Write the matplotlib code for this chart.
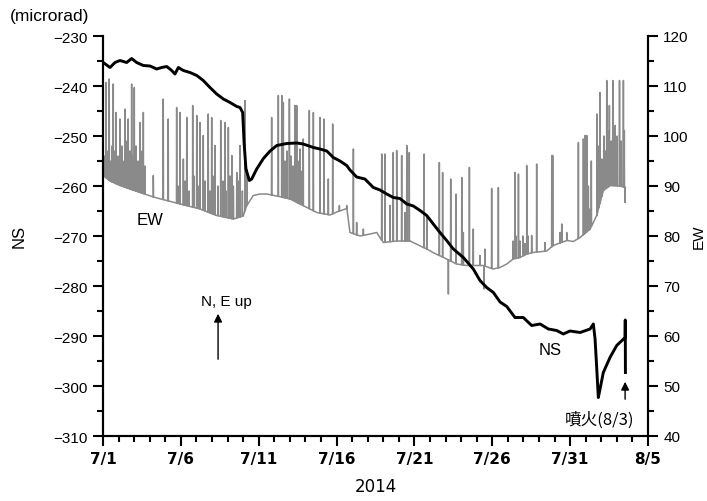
import numpy as np
import matplotlib
matplotlib.use("Agg")
import matplotlib.pyplot as plt

# ---------------- data (days since 2014-07-01) ----------------
ns_days = [0.02, 0.45, 0.77, 1.09, 1.52, 1.84, 2.16, 2.59, 3.02, 3.45, 3.77, 4.09, 4.41, 4.62,
           4.84, 5.16, 5.59, 6.02, 6.44, 6.87, 7.30, 7.73, 8.16, 8.59, 8.80, 8.97, 9.06, 9.18,
           9.40, 9.55, 9.87, 10.30, 10.73, 11.16, 11.80, 12.44, 12.86, 13.51, 13.94, 14.37,
           14.79, 15.22, 15.65, 15.86, 16.29, 16.82, 17.36, 17.79, 18.22, 18.64, 19.07, 19.51,
           19.93, 20.36, 20.79, 21.21, 21.64, 22.07, 22.50, 23.14, 23.78, 24.21, 24.64, 25.07,
           25.50, 25.93, 26.46, 26.99, 27.53, 28.07, 28.60, 29.14, 29.56, 29.99, 30.64, 31.28,
           31.49, 31.60, 31.71, 31.81, 31.92, 32.13, 32.56, 32.99, 33.53, 33.54, 33.55]
ns_vals = [-235.3, -236.3, -235.3, -234.9, -235.3, -234.5, -235.3, -235.9, -236.0, -236.6,
           -236.3, -236.1, -236.9, -237.6, -236.3, -236.9, -237.3, -237.9, -238.9, -240.3,
           -241.6, -242.6, -243.3, -244.1, -244.3, -245.3, -251.3, -256.6, -258.9, -258.6,
           -256.6, -254.5, -253.0, -251.9, -251.5, -251.4, -251.6, -252.3, -252.6, -253.0,
           -254.3, -255.0, -255.9, -256.8, -258.2, -258.6, -260.3, -260.8, -261.6, -262.3,
           -262.5, -263.6, -264.0, -264.9, -265.9, -267.6, -269.3, -270.9, -272.6, -274.3,
           -276.6, -278.9, -280.3, -281.3, -283.2, -284.1, -286.3, -286.3, -287.9, -287.6,
           -288.6, -288.9, -289.6, -289.0, -289.3, -288.6, -287.6, -290.6, -296.6, -302.3,
           -300.6, -297.3, -294.3, -291.9, -290.3, -286.8, -297.3]

ew_base_days = [0.02, 0.45, 1.09, 1.73, 2.38, 3.23, 4.09, 4.95, 6.23, 7.30, 8.37, 9.01, 9.23,
                9.65, 10.08, 10.51, 11.16, 12.01, 12.65, 13.73, 14.58, 15.01, 15.65, 15.86,
                16.51, 17.15, 17.58, 18.00, 18.86, 19.72, 20.79, 21.19, 22.07, 22.71, 23.36,
                24.42, 25.05, 25.50, 25.93, 26.35, 26.78, 27.21, 27.62, 28.50, 28.92, 29.78,
                30.21, 30.64, 31.28, 31.71, 32.13, 32.56, 33.20, 33.53]
ew_base_vals = [92.1, 91.0, 90.1, 89.4, 88.7, 87.8, 87.1, 86.4, 85.4, 84.1, 83.4, 84.0, 86.1,
                88.1, 88.4, 88.4, 88.0, 87.4, 86.4, 84.7, 84.2, 84.8, 85.5, 80.7, 80.0, 80.4,
                80.7, 78.7, 79.0, 79.0, 77.4, 76.7, 75.4, 74.4, 74.1, 74.1, 73.4, 73.7, 74.4,
                75.4, 75.7, 76.4, 76.7, 77.0, 78.1, 79.1, 78.9, 79.7, 81.4, 84.1, 89.1, 90.1,
                90.0, 89.7]

ew_spike_days = [0.19, 0.40, 0.66, 0.83, 1.09, 1.41, 1.62, 1.84, 2.01, 2.38, 2.59, 3.23, 3.87,
                 4.19, 4.73, 4.95, 5.16, 5.38, 5.76, 6.02, 6.23, 6.44, 6.76, 6.98, 7.19, 7.56,
                 7.84, 8.05, 8.27, 8.59, 8.80, 9.12, 9.23,
                 0.10, 0.26, 0.51, 0.58, 0.77, 0.96, 1.22, 1.35, 1.54, 1.73, 1.93, 2.12, 2.25,
                 2.51, 2.70,
                 4.81, 5.27, 5.52, 5.84, 6.10, 6.55, 6.87, 7.06, 7.38, 7.71, 7.90, 8.16, 8.37,
                 8.69, 8.95,
                 10.83, 11.26, 11.48, 11.58, 11.97, 12.33, 12.44, 12.65, 12.86, 13.25, 13.51,
                 13.94, 14.19, 14.47, 14.75, 15.18, 15.65, 16.08, 16.29, 16.72, 17.90, 18.11,
                 18.43, 18.64, 18.86, 19.18, 19.40, 19.51,
                 11.68, 11.81, 12.07, 12.20, 12.52, 12.72,
                 19.67, 20.62, 20.79, 21.60, 21.81, 22.18, 22.33, 22.67, 23.04, 23.14, 23.53,
                 23.78, 24.21, 24.47, 24.53, 24.96, 25.39, 26.46, 26.68, 27.21, 27.53, 27.85,
                 28.88,
                 26.33, 26.52, 26.78, 26.97, 27.10, 27.30,
                 28.39, 28.82, 29.35, 29.46, 29.78, 30.53, 30.85, 30.96, 31.07, 31.28, 31.71,
                 31.92, 32.03, 32.35, 32.52, 32.74, 32.89, 33.17, 33.42, 33.48, 33.53,
                 31.04, 31.17, 31.36, 31.84, 32.16, 32.29, 32.45, 32.64, 32.83, 33.02, 33.28]
ew_spike_peaks = [110.7, 111.4, 110.4, 104.7, 103.4, 105.4, 103.4, 110.4, 109.7, 102.7, 104.7,
                  92.1, 107.4, 103.4, 105.7, 104.7, 95.4, 103.7, 106.1, 104.1, 102.7, 100.1,
                  104.4, 103.7, 98.1, 103.1, 102.7, 101.7, 96.1, 92.7, 98.1, 107.1, 93.4,
                  96.0, 97.0, 95.0, 98.0, 97.0, 96.0, 98.0, 95.0, 99.0, 97.0, 96.0, 98.0, 95.0,
                  97.0, 94.0,
                  90.0, 91.0, 89.0, 92.0, 90.0, 91.0, 89.0, 92.0, 90.0, 91.0, 89.0, 92.0, 90.0,
                  91.0, 89.0,
                  103.7, 108.1, 108.1, 106.7, 107.4, 106.1, 106.1, 97.4, 99.4, 105.1, 104.7,
                  103.7, 103.4, 91.4, 102.4, 86.1, 86.1, 97.4, 82.7, 81.4, 96.4, 96.4,
                  86.1, 96.7, 97.1, 96.1, 84.7, 98.1,
                  95.0, 97.0, 96.0, 94.0, 95.0, 93.0,
                  96.7, 96.4, 84.1, 94.7, 92.7, 68.4, 91.4, 88.4, 91.7, 80.7, 93.7,
                  81.4, 76.1, 69.4, 77.4, 89.5, 89.7, 92.7, 92.4, 94.1, 80.1, 94.4,
                  96.1,
                  79.0, 80.0, 79.0, 80.0, 78.5, 80.0,
                  78.7, 96.1, 80.7, 82.4, 80.7, 98.7, 99.4, 100.1, 100.1, 85.4, 104.4,
                  108.7, 95.4, 111.1, 106.1, 111.1, 102.1, 111.1, 111.1, 101.1, 86.7,
                  94.0, 90.0, 95.0, 98.0, 100.0, 97.0, 101.0, 99.0, 98.0, 100.0, 99.0]

xtick_days = [0, 5, 10, 15, 20, 25, 30, 35]
xtick_labels = ["7/1", "7/6", "7/11", "7/16", "7/21", "7/26", "7/31", "8/5"]

# ---------------- build EW trace ----------------
pts = list(zip(ew_base_days, ew_base_vals))
bd = np.array(ew_base_days)
bv = np.array(ew_base_vals)
for d, p in zip(ew_spike_days, ew_spike_peaks):
    b = float(np.interp(d, bd, bv))
    pts += [(d - 0.012, b), (d, p), (d + 0.012, b)]
pts.sort(key=lambda t: t[0])
ew_x = [p[0] for p in pts]
ew_y = [p[1] for p in pts]

# ---------------- figure ----------------
plt.rcParams['font.family'] = ['Liberation Sans', 'DejaVu Sans']
fig = plt.figure(figsize=(7.07, 5.02), dpi=100)
L, R, T, B = 103, 648, 37, 437
ax = fig.add_axes([L / 707, 1 - B / 502, (R - L) / 707, (B - T) / 502])
ax2 = ax.twinx()
ax.set_zorder(ax2.get_zorder() + 1)
ax.patch.set_visible(False)

ax2.plot(ew_x, ew_y, color='#8a8a8a', lw=1.1)
ax.plot(ns_days, ns_vals, color='black', lw=2.1)

ax.set_xlim(0, 35)
ax.set_ylim(-310, -230)
ax2.set_ylim(40, 120)

ax.set_xticks(xtick_days)
ax.set_xticklabels(xtick_labels, family=['Liberation Sans Narrow', 'DejaVu Sans'],
                   fontweight='bold', fontsize=11)
ax.set_xticks(np.arange(0, 36, 1), minor=True)
ax.set_yticks(np.arange(-310, -229, 10))
ax.set_yticklabels([f"\u2212{abs(v)}" for v in range(-310, -229, 10)], fontsize=11)
ax.set_yticks(np.arange(-310, -229, 5), minor=True)
ax2.set_yticks(np.arange(40, 121, 10))
ax2.set_yticks(np.arange(40, 121, 5), minor=True)
ax2.tick_params(axis='y', labelsize=11)

for a in (ax, ax2):
    a.spines['top'].set_visible(False)
    for s in ('left', 'right', 'bottom'):
        a.spines[s].set_linewidth(1.5)
    a.tick_params(which='major', direction='out', length=7, width=1.5, pad=4)
    a.tick_params(which='minor', direction='out', length=4, width=1.5)

ax.set_ylabel("NS", fontsize=12, labelpad=19)
ax2.set_ylabel("EW", fontsize=11, labelpad=2)
ax.set_xlabel("2014", fontsize=12, family=['Liberation Sans Narrow', 'DejaVu Sans'], labelpad=8)

fig.text(10 / 707, 1 - 16 / 502, "(microrad)", fontsize=12.5, ha='left', va='center')

ax.text(3.0, -266.6, "EW", fontsize=12, ha='center', va='center')
ax.text(28.7, -292.6, "NS", fontsize=12, ha='center', va='center')
ax.text(6.3, -283.0, "N, E up", fontsize=11, ha='left', va='center')
ax.annotate("", xy=(7.39, -285.0), xytext=(7.39, -295.2),
            arrowprops=dict(arrowstyle='-|>', color='black', lw=1.0, mutation_scale=12))
ax.text(31.9, -306.6, "噴火(8/3)", fontsize=12, ha='center', va='center',
        family=['Noto Sans CJK JP', 'DejaVu Sans'])
ax.annotate("", xy=(33.53, -298.6), xytext=(33.53, -303.2),
            arrowprops=dict(arrowstyle='-|>', color='black', lw=1.0, mutation_scale=12))

fig.savefig("out.png", dpi=100)
